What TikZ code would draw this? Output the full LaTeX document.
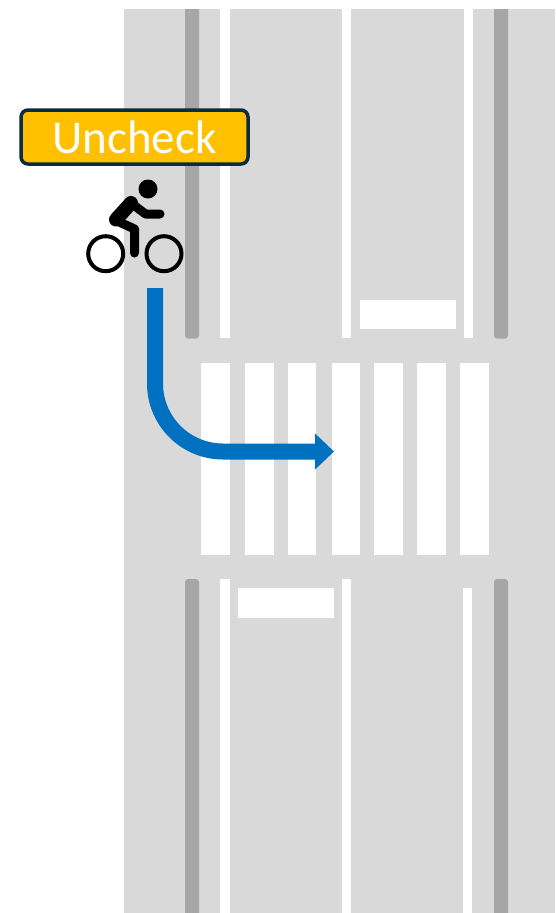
\documentclass[tikz,border=0pt]{standalone}
\usepackage{fontspec}
\setmainfont{Carlito}
\usetikzlibrary{arrows.meta}
\definecolor{road}{HTML}{D9D9D9}
\definecolor{kerb}{HTML}{A6A6A6}
\definecolor{flow}{HTML}{0070C0}
\definecolor{tagfill}{HTML}{FFC000}
\definecolor{tagline}{HTML}{0D2B3E}
\tikzset{
  whitebar/.style={fill=white,draw=none},
  kerbbar/.style={fill=kerb,draw=none},
  rider/.style={draw=black,line cap=round,line join=round},
  wheel/.style={draw=black,line width=4pt,fill=none},
  tag/.style={draw=tagline,line width=3.5pt,fill=tagfill,rounded corners=7pt,text=white,
    minimum width=227pt,minimum height=54pt,inner sep=0pt,font=\fontsize{47}{47}\selectfont},
  flowline/.style={draw=flow,line width=16pt,rounded corners=68pt,
    -{Triangle[length=19pt,width=35pt]}}
}
\begin{document}
\begin{tikzpicture}[x=1pt,y=-1pt]
\useasboundingbox (0,0) rectangle (555,913);
% road
\fill[road] (124,9) rectangle (555,913);
% kerb bars
\foreach \xa/\xb in {185/199,494/508}{
  \fill[kerbbar] (\xa,9) -- (\xb,9) {[rounded corners=3pt] -- (\xb,338.5) -- (\xa,338.5)} -- cycle;
  \fill[kerbbar] (\xa,913) -- (\xb,913) {[rounded corners=3pt] -- (\xb,579) -- (\xa,579)} -- cycle;
}
% lane lines, upper
\fill[whitebar] (220,9) rectangle (230,338);
\fill[whitebar] (342,9) rectangle (351,338);
\fill[whitebar] (464,9) rectangle (473,338);
% lane lines, lower
\fill[whitebar] (220,579) rectangle (230,913);
\fill[whitebar] (342,579) rectangle (351,913);
\fill[whitebar] (463,588) rectangle (472,913);
% stop bars
\fill[whitebar] (360,300) rectangle (456,329);
\fill[whitebar] (238,588) rectangle (334,618);
% crossing
\foreach \xa/\xb in {201/230,245/274,288/316,331.5/360,374/403,417/446,460/489}
  \fill[whitebar] (\xa,363) rectangle (\xb,555);
% turn arrow
\coordinate (turnstart) at (155,288);
\coordinate (turnend) at (334,451.5);
\draw[flowline] (turnstart) |- (turnend);
% cyclist
\fill[black] (148,189) circle (9.5pt);
\draw[wheel] (105.7,253.7) circle (17.5pt);
\draw[wheel] (164,253.7) circle (17.5pt);
\draw[rider,line width=14pt] (116,219.5) -- (131,203);
\draw[rider,line width=9pt] (131,203) -- (145.5,214) -- (160,214);
\draw[rider,line width=9pt] (116,220.5) -- (134.5,229) -- (134.5,253);
% label
\node[tag] (label) at (134.5,137) {Uncheck};
\end{tikzpicture}
\end{document}
